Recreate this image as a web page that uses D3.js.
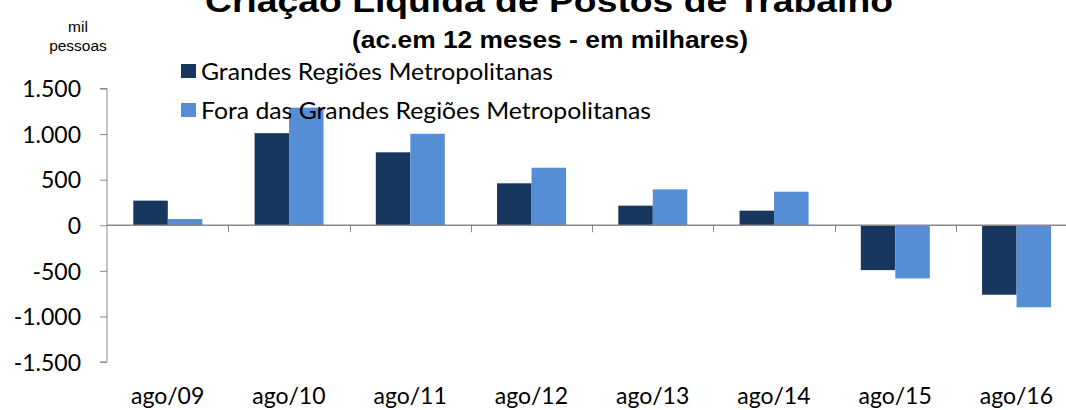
<!DOCTYPE html>
<html><head><meta charset="utf-8">
<script src="https://cdn.jsdelivr.net/npm/d3@7"></script>
<style>body{margin:0;background:#fff;overflow:hidden}svg{display:block}</style>
</head><body><svg id="c" width="1066" height="410"></svg>
<script>
const categories = ["ago/09","ago/10","ago/11","ago/12","ago/13","ago/14","ago/15","ago/16"];
const seriesNames = ["Grandes Regiões Metropolitanas","Fora das Grandes Regiões Metropolitanas"];
const grandesRM = [270, 1010, 800, 460, 215, 160, -492, -762];
const foraRM = [68, 1290, 1003, 631, 394, 368, -583, -900];
const yTicks = [1500, 1000, 500, 0, -500, -1000, -1500];
const yTickLabels = ["1.500","1.000","500","0","-500","-1.000","-1.500"];
const colors = ["#17375E", "#558ED5"];

const svg = d3.select("#c");
const font = "Lato, 'Open Sans', sans-serif";
const y = d3.scaleLinear().domain([-1500, 1500]).range([362, 88.5]);
const x = d3.scaleBand().domain(categories).range([107, 1077]).padding(0);
const bw = x.bandwidth();
const x1 = d3.scaleBand().domain([0,1]).range([bw*0.217, bw*0.217 + bw*0.569]);

// Title
svg.append("text").attr("x", 549).attr("y", 12).attr("text-anchor","middle")
  .attr("font-family","'Liberation Sans', Arial, sans-serif").attr("font-weight","bold")
  .attr("font-size", 32).attr("textLength", 688).attr("lengthAdjust","spacingAndGlyphs")
  .text("Criação Líquida de Postos de Trabalho");
svg.append("text").attr("x", 550).attr("y", 48).attr("text-anchor","middle")
  .attr("font-family","'Liberation Sans', Arial, sans-serif").attr("font-weight","bold")
  .attr("font-size", 23).attr("textLength", 396).attr("lengthAdjust","spacingAndGlyphs")
  .text("(ac.em 12 meses - em milhares)");

// unit label
svg.append("text").attr("x", 78).attr("y", 32).attr("text-anchor","middle")
  .attr("font-family","'Liberation Sans', Arial, sans-serif").attr("font-size", 15.5).text("mil");
svg.append("text").attr("x", 78).attr("y", 51).attr("text-anchor","middle")
  .attr("font-family","'Liberation Sans', Arial, sans-serif").attr("font-size", 15.5).text("pessoas");

// bars
const data = categories.map((c,i)=>({c, v:[grandesRM[i], foraRM[i]]}));
const g = svg.append("g");
data.forEach(d=>{
  d.v.forEach((v,s)=>{
    g.append("rect")
      .attr("x", x(d.c) + x1(s))
      .attr("width", x1.bandwidth())
      .attr("y", y(Math.max(0,v)))
      .attr("height", Math.abs(y(v)-y(0)))
      .attr("fill", colors[s]);
  });
});

// Y axis
const yAxis = d3.axisLeft(y).tickValues(yTicks).tickSize(7)
  .tickFormat((d,i)=>yTickLabels[i]);
const ya = svg.append("g").attr("transform","translate(107,0)").call(yAxis);
ya.select(".domain").attr("stroke","#888").attr("d","M-7,"+y(1500)+"H0V"+y(-1500)+"H-7");
ya.selectAll(".tick line").attr("stroke","#888");
ya.selectAll(".tick text").attr("font-family",font).attr("font-size",23).attr("fill","#000")
  .attr("x",-26).attr("dy","0.36em");

// X axis line at zero
const xa = svg.append("g").attr("transform","translate(0,"+y(0)+")");
xa.append("line").attr("x1",107).attr("x2",1077).attr("stroke","#888").attr("stroke-width",1.3);
categories.forEach(c=>{
  const xx = Math.round(x(c)+bw)+0.5;
  xa.append("line").attr("x1",xx).attr("x2",xx).attr("y1",0).attr("y2",7).attr("stroke","#888");
});
svg.selectAll(".xl").data(categories).enter().append("text")
  .attr("x", d=>x(d)+bw/2).attr("y", 404).attr("text-anchor","middle")
  .attr("font-family",font).attr("font-size",23).text(d=>d);

// legend
const legendLens = [352, 450];
seriesNames.forEach((n,i)=>{
  const ly = 71 + i*39;
  svg.append("rect").attr("x",181).attr("y",ly-7).attr("width",15).attr("height",14).attr("fill",colors[i]);
  svg.append("text").attr("x",201).attr("y",ly).attr("dy","0.36em")
    .attr("font-family",font).attr("font-size",24)
    .attr("textLength", legendLens[i]).attr("lengthAdjust","spacingAndGlyphs").text(n);
});
</script></body></html>
